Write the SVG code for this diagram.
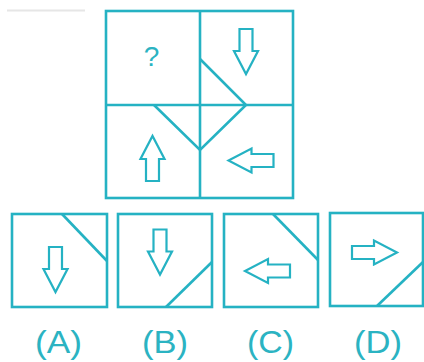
<svg xmlns="http://www.w3.org/2000/svg" xmlns:xlink="http://www.w3.org/1999/xlink" width="424" height="362" viewBox="0 0 424 362">
<style>
.ln{fill:none;stroke:#25b2c3;stroke-width:2.6;stroke-linejoin:miter}
.ar{fill:#ffffff;stroke:#25b2c3;stroke-width:2.2;stroke-linejoin:miter}
.lb{font-family:"Liberation Sans",Arial,sans-serif;font-size:32px;fill:#2bb3c2;text-anchor:middle}
.q{font-family:"Liberation Sans",Arial,sans-serif;font-size:28px;fill:#2bb3c2;text-anchor:middle}
</style>
<defs>
<path id="arrow" d="M-6.5,-22.5 L6.5,-22.5 L6.5,-0.5 L12,-0.5 L0,22.5 L-12,-0.5 L-6.5,-0.5 Z"/>
</defs>
<rect width="424" height="362" fill="#ffffff"/>
<line x1="7" y1="10.5" x2="85" y2="10.5" stroke="#e6e6e6" stroke-width="2"/>
<g id="question-grid">
<rect class="ln" x="106" y="11" width="187" height="187"/>
<line class="ln" x1="200" y1="11" x2="200" y2="198"/>
<line class="ln" x1="106" y1="105" x2="293" y2="105"/>
<polyline class="ln" points="200,59 246,105 200,150 154,105"/>
<text class="q" x="151.5" y="65.5">?</text>
<use href="#arrow" class="ar" transform="translate(246,51.5)"/>
<use href="#arrow" class="ar" transform="translate(152.5,158.5) rotate(180)"/>
<use href="#arrow" class="ar" transform="translate(251,160.5) rotate(90)"/>
</g>
<g id="option-A">
<rect class="ln" x="12" y="214" width="95" height="93"/>
<line class="ln" x1="62" y1="214" x2="107" y2="261"/>
<use href="#arrow" class="ar" transform="translate(55.5,269.5)"/>
<text class="lb" x="58.5" y="353" textLength="47" lengthAdjust="spacingAndGlyphs">(A)</text>
</g>
<g id="option-B">
<rect class="ln" x="118" y="214" width="94" height="93"/>
<line class="ln" x1="166" y1="307" x2="212" y2="262"/>
<use href="#arrow" class="ar" transform="translate(160,252)"/>
<text class="lb" x="165" y="353" textLength="46" lengthAdjust="spacingAndGlyphs">(B)</text>
</g>
<g id="option-C">
<rect class="ln" x="224" y="214" width="94" height="93"/>
<line class="ln" x1="273" y1="214" x2="318" y2="260"/>
<use href="#arrow" class="ar" transform="translate(267.5,271) rotate(90)"/>
<text class="lb" x="270.5" y="353" textLength="47" lengthAdjust="spacingAndGlyphs">(C)</text>
</g>
<g id="option-D">
<rect class="ln" x="330" y="213" width="93" height="93"/>
<line class="ln" x1="377" y1="306" x2="423" y2="262"/>
<use href="#arrow" class="ar" transform="translate(374.5,252.5) rotate(-90)"/>
<text class="lb" x="378" y="353" textLength="48" lengthAdjust="spacingAndGlyphs">(D)</text>
</g>
<g id="connectors"/>
</svg>
